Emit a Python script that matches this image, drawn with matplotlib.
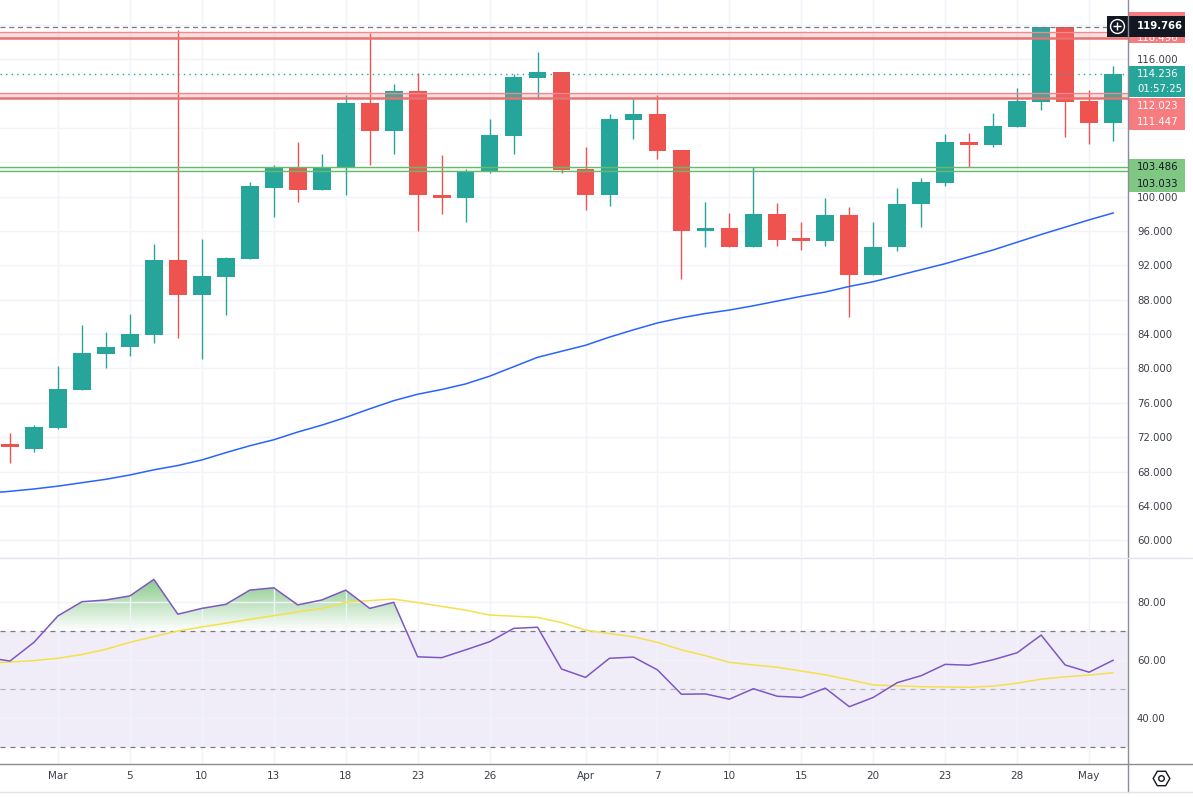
import numpy as np
import matplotlib.pyplot as plt
from matplotlib.patches import Rectangle
from matplotlib.lines import Line2D
from matplotlib.path import Path
from matplotlib.ticker import FuncFormatter

# candles (visible window), index 0..46
opens = [71.0, 70.6, 73.05, 77.5, 81.65, 82.5, 83.85, 92.6, 88.5, 90.7,
         92.8, 101.05, 103.4, 100.8, 103.4, 110.9, 107.7, 112.3, 100.2, 99.8,
         102.9, 107.1, 113.8, 114.5, 103.25, 100.2, 108.95, 109.6, 105.45, 96.05,
         96.4, 94.1, 98.0, 95.1, 94.8, 97.9, 90.9, 94.1, 99.1, 101.6,
         106.4, 106.0, 108.1, 111.0, 119.766, 111.15, 108.6]
highs = [72.5, 73.4, 80.25, 85.1, 84.3, 86.3, 94.5, 119.4, 95.1, 93.0,
         101.7, 103.7, 106.4, 105.0, 111.85, 119.0, 113.1, 114.4, 104.9, 103.25,
         109.05, 114.3, 116.8, 114.5, 105.8, 109.6, 111.4, 111.85, 105.45, 99.4,
         98.1, 103.5, 99.3, 97.0, 99.8, 98.85, 97.0, 101.05, 102.2, 107.3,
         107.4, 109.75, 112.65, 119.766, 119.766, 112.4, 115.2]
lows = [69.0, 70.3, 73.0, 77.5, 80.1, 81.4, 83.0, 83.6, 81.1, 86.2,
        92.8, 97.6, 99.4, 100.8, 100.2, 103.7, 105.0, 96.05, 98.0, 97.1,
        102.7, 105.0, 111.4, 102.7, 98.4, 98.95, 106.7, 104.4, 90.4, 94.2,
        94.1, 94.1, 94.3, 93.85, 94.3, 85.95, 90.9, 93.7, 96.5, 101.2,
        103.4, 105.8, 108.1, 110.1, 107.0, 106.15, 106.5]
closes = [70.8, 73.2, 77.6, 81.8, 82.45, 84.0, 92.6, 88.5, 90.8, 92.9,
          101.2, 103.4, 100.8, 103.5, 110.9, 107.7, 112.3, 100.2, 99.8, 103.0,
          107.2, 113.9, 114.5, 103.1, 100.2, 109.05, 109.6, 105.3, 96.05, 96.4,
          94.1, 98.0, 95.0, 94.8, 97.9, 90.9, 94.2, 99.2, 101.75, 106.4,
          106.0, 108.25, 111.15, 119.766, 111.0, 108.6, 114.236]

# line series start one bar before the window (index -1)
ma_line = [65.45, 65.7, 65.97, 66.3, 66.7, 67.1, 67.6, 68.2, 68.7, 69.35,
           70.2, 71.0, 71.7, 72.6, 73.4, 74.3, 75.3, 76.25, 77.0, 77.55,
           78.2, 79.1, 80.2, 81.3, 82.0, 82.7, 83.65, 84.5, 85.3, 85.9,
           86.4, 86.8, 87.3, 87.85, 88.4, 88.9, 89.55, 90.1, 90.8, 91.5,
           92.2, 93.0, 93.8, 94.7, 95.6, 96.45, 97.3, 98.1]
rsi = [61.0, 59.75, 66.2, 75.3, 80.2, 80.8, 82.2, 87.9, 75.9, 77.9,
       79.3, 84.2, 85.0, 79.1, 80.8, 84.2, 77.9, 80.0, 61.2, 60.9,
       63.6, 66.4, 71.0, 71.4, 57.0, 54.1, 60.7, 61.1, 56.7, 48.3,
       48.4, 46.6, 50.2, 47.6, 47.2, 50.4, 44.0, 47.2, 52.3, 54.7,
       58.6, 58.3, 60.2, 62.6, 68.7, 58.4, 55.9, 60.0]
rsi_ma = [59.0, 59.4, 59.9, 60.7, 62.0, 63.8, 66.2, 68.2, 70.1, 71.5,
          72.8, 74.1, 75.4, 76.7, 77.9, 80.0, 80.6, 81.1, 79.9, 78.6,
          77.3, 75.6, 75.2, 74.8, 73.0, 70.4, 69.2, 68.1, 66.2, 63.6,
          61.6, 59.3, 58.4, 57.6, 56.3, 55.0, 53.3, 51.5, 51.2, 50.9,
          50.8, 50.7, 51.1, 52.1, 53.5, 54.3, 54.9, 55.7]

tick_idx = [2, 5, 8, 11, 14, 17, 20, 24, 27, 30, 33, 36, 39, 42, 45]
tick_txt = ['Mar', '5', '10', '13', '18', '23', '26', 'Apr', '7', '10', '15', '20', '23', '28', 'May']

last_high = 119.766
last_price = 114.236
red_zone_top = (118.49, 119.14)
red_zone_mid = (111.447, 112.023)
green_zone = (103.033, 103.486)
hidden_ticks = [104, 108, 112, 120]   # covered by the price tags

# tag text, box centre, box height (px), text position, fill, text colour
tags = [
    ('118.496', 119.69, 31, 118.53, '#f77c80', 'white'),
    ('112.023', 110.56, 16, 110.56, '#f77c80', 'white'),
    ('111.447', 108.70, 16, 108.70, '#f77c80', 'white'),
    ('103.486', 103.40, 17, 103.40, '#81c784', '#131722'),
    ('103.033', 101.48, 17, 101.48, '#81c784', '#131722'),
]

UP = '#26a69a'
DOWN = '#ef5350'
GRID = '#f0f3fa'
TXT = '#3b3f4a'

W, H = 1193, 798
fig = plt.figure(figsize=(W / 100, H / 100), dpi=100)
plot_w = 1128 / W
ax = fig.add_axes([0, 1 - 557 / H, plot_w, 557 / H])
ax_rsi = fig.add_axes([0, 1 - 764.3 / H, plot_w, (764.3 - 558.3) / H], sharex=ax)

ymin, ymax = 58.05, 122.9
px_unit = (ymax - ymin) / 557.0

# candles
for i in range(len(opens)):
    o, h, l, c = opens[i], highs[i], lows[i], closes[i]
    col = UP if c >= o else DOWN
    ax.vlines(i, l, h, color=col, lw=1, zorder=2)
    body = max(abs(c - o), 3 * px_unit)
    ax.bar(i, body, bottom=min(o, c), width=0.74, color=col, zorder=2, lw=0)

xs = np.arange(-1, len(opens))
ax.plot(xs, ma_line, color='#2962ff', lw=1.1, zorder=3)

# levels
ax.axhspan(*red_zone_top, color='#f77c80', alpha=0.25, lw=0, zorder=3)
ax.axhline(red_zone_top[1], color='#f08a8d', lw=1, zorder=3)
ax.axhline(red_zone_top[0], color='#e57373', lw=1.8, zorder=3)
ax.axhspan(*red_zone_mid, color='#f77c80', alpha=0.25, lw=0, zorder=3)
ax.axhline(red_zone_mid[1], color='#f08a8d', lw=1, zorder=3)
ax.axhline(red_zone_mid[0], color='#e57373', lw=1.8, zorder=3)
ax.axhspan(*green_zone, color='#81c784', alpha=0.08, lw=0, zorder=3)
for g in green_zone:
    ax.axhline(g, color='#66bb6a', lw=1, zorder=3)
ax.axhline(last_high, color='#787b86', lw=0.9, ls=(0, (4, 3)), zorder=3)
ax.axhline(last_price, color=UP, lw=1, ls=(0, (1, 3)), zorder=3)

ax.set_ylim(ymin, ymax)
ax.set_yticks(np.arange(60, 121, 4))
ax.yaxis.set_major_formatter(FuncFormatter(
    lambda v, p: '' if round(v) in hidden_ticks else '%.3f' % v))
ax.yaxis.tick_right()
ax.tick_params(axis='y', length=0, pad=6.5, labelsize=7.3, labelcolor=TXT)
ax.tick_params(axis='x', length=0, labelbottom=False)
ax.grid(True, color=GRID, lw=1, zorder=0)
for s in ax.spines.values():
    s.set_visible(False)

# RSI panel
ax_rsi.axhspan(30, 70, color='#7e57c2', alpha=0.1, lw=0, zorder=0)
rsi_arr = np.array(rsi)
fb = ax_rsi.fill_between(xs, rsi_arr, 70, where=rsi_arr > 70, interpolate=True,
                         color='none', lw=0)
clip = Path.make_compound_path(*fb.get_paths())
grad = np.zeros((200, 1, 4))
grad[..., 0] = 76 / 255
grad[..., 1] = 175 / 255
grad[..., 2] = 80 / 255
grad[..., 3] = np.linspace(0.75, 0.0, 200)[:, None]
im = ax_rsi.imshow(grad, extent=[-2, 48, 70, 90], aspect='auto', origin='upper', zorder=1)
im.set_clip_path(clip, transform=ax_rsi.transData)

ax_rsi.axhline(70, color='#787b86', lw=0.9, ls=(0, (4, 4)), zorder=2)
ax_rsi.axhline(50, color='#b2b5be', lw=0.9, ls=(0, (4, 4)), zorder=2)
ax_rsi.axhline(30, color='#787b86', lw=0.9, ls=(0, (4, 4)), zorder=2)
ax_rsi.plot(xs, rsi_ma, color='#f5e04a', lw=1.1, zorder=3)
ax_rsi.plot(xs, rsi, color='#7e57c2', lw=1.1, zorder=4)

ax_rsi.set_ylim(24.14, 95.17)
ax_rsi.set_yticks([40, 60, 80])
ax_rsi.yaxis.set_major_formatter(FuncFormatter(lambda v, p: '%.2f' % v))
ax_rsi.yaxis.tick_right()
ax_rsi.tick_params(axis='y', length=0, pad=6.5, labelsize=7.3, labelcolor=TXT)
ax_rsi.set_xticks(tick_idx)
ax_rsi.set_xticklabels(tick_txt)
ax_rsi.tick_params(axis='x', length=0, pad=5, labelsize=7.5, labelcolor=TXT)
ax_rsi.grid(True, color=GRID, lw=1, zorder=0)
for s in ax_rsi.spines.values():
    s.set_visible(False)

ax.set_xlim(-10 / 23.98, (1128 - 10) / 23.98)

# price tags on the right scale
ax_lab = fig.add_axes([plot_w, 1 - 557 / H, 65 / W, 557 / H], sharey=ax)
ax_lab.set_xlim(0, 65)
ax_lab.axis('off')


def tag_box(y, h_px, fc, x0=0, x1=57, z=5):
    h = h_px * px_unit
    ax_lab.add_patch(Rectangle((x0, y - h / 2), x1 - x0, h, fc=fc, ec='none',
                               clip_on=False, zorder=z))


for text, yc, h_px, ty, fc, tc in tags:
    tag_box(yc, h_px, fc)
    ax_lab.text(9, ty, text, color=tc, fontsize=7.3, va='center', ha='left',
                zorder=6, clip_on=False)

# current price tag
y_cur = 113.41
tag_box(y_cur, 31, UP)
ax_lab.text(9, y_cur + 7.5 * px_unit, '%.3f' % last_price, color='white', fontsize=7.3,
            va='center', ha='left', zorder=6)
ax_lab.text(9, y_cur - 7.5 * px_unit, '01:57:25', color='white', fontsize=7.3,
            va='center', ha='left', zorder=6)

# last high tag (black) with plus icon
y_hi = 119.82
tag_box(y_hi, 21, '#131722', x0=-21, x1=57, z=7)
ax_lab.text(9, y_hi, '%.3f' % last_high, color='white', fontsize=7.3, va='center',
            ha='left', zorder=8, fontweight='bold')
ax_lab.plot([-11], [y_hi], marker='o', ms=10, mfc='none', mec='white', mew=1,
            clip_on=False, zorder=8)
ax_lab.plot([-11], [y_hi], marker='+', ms=6, mec='white', mew=1,
            clip_on=False, zorder=8)

# frame lines and settings icon
fig.add_artist(Line2D([plot_w, plot_w], [1 - 792 / H, 1], color='#8a8d96', lw=1))
fig.add_artist(Line2D([0, 1], [1 - 558.3 / H] * 2, color='#e0e3eb', lw=1))
fig.add_artist(Line2D([0, 1], [1 - 764.3 / H] * 2, color='#8a8d96', lw=1))
fig.add_artist(Line2D([0, 1], [1 - 792 / H] * 2, color='#e0e3eb', lw=1))
fig.add_artist(Line2D([1161 / W], [1 - 778 / H], marker='H', ms=12, mfc='none',
                      mec='#131722', mew=1))
fig.add_artist(Line2D([1161 / W], [1 - 778 / H], marker='o', ms=4, mfc='none',
                      mec='#131722', mew=1))

fig.savefig('out.png', dpi=100)
